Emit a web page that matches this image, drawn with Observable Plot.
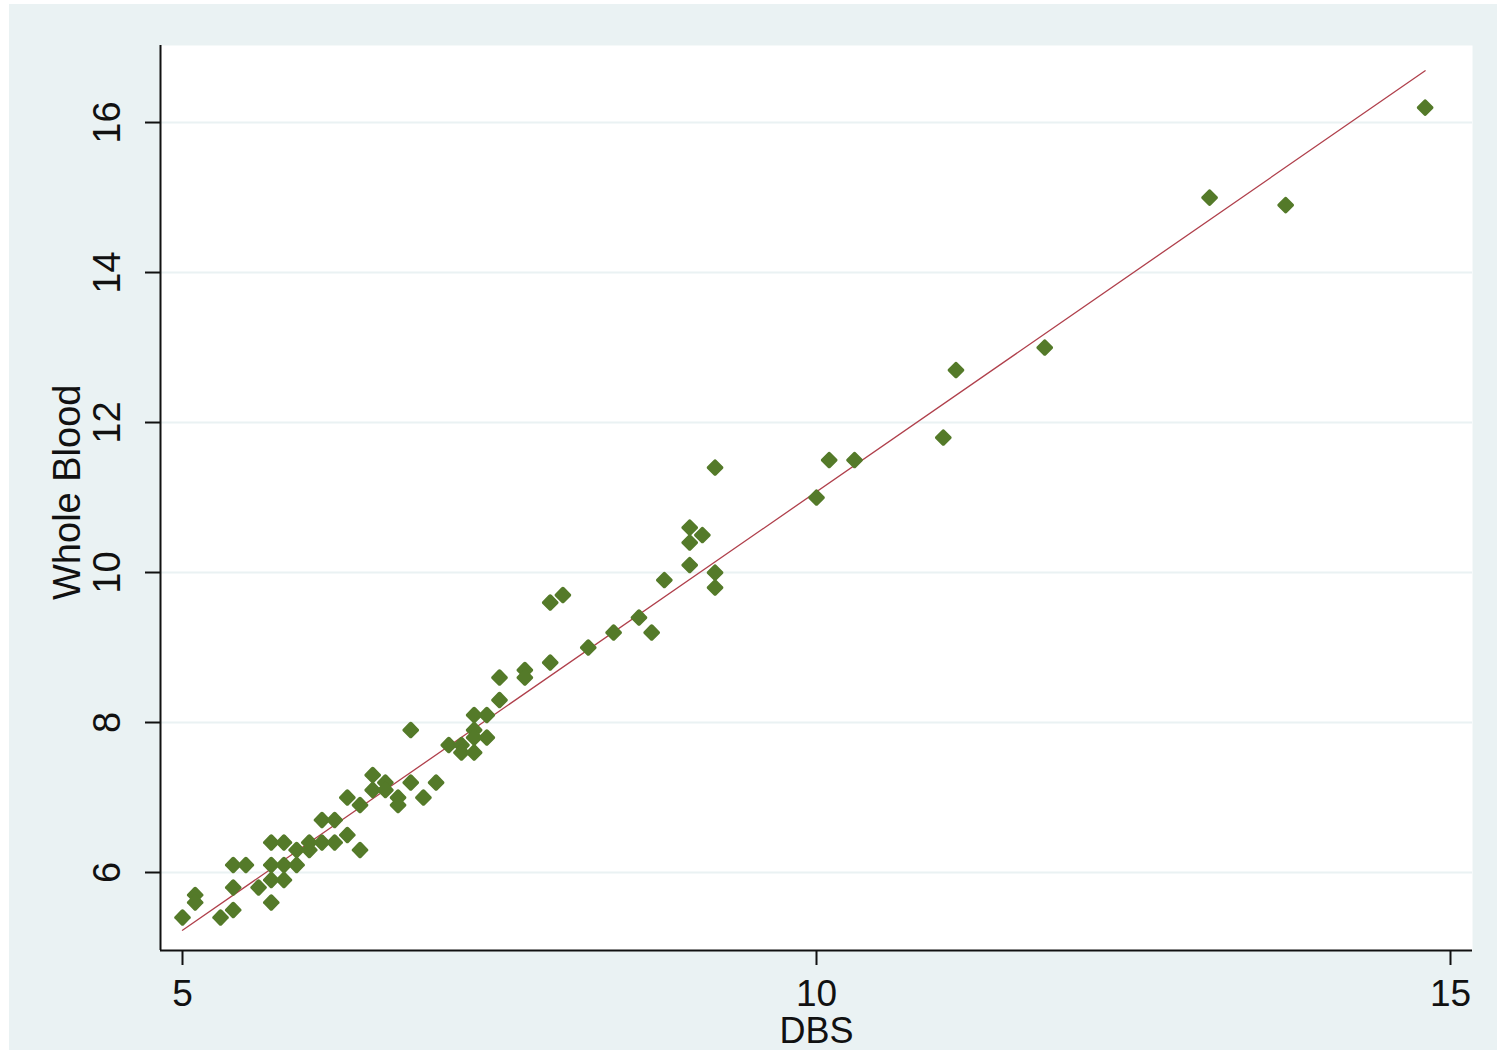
<!DOCTYPE html>
<html>
<head>
<meta charset="utf-8">
<script src="https://cdn.jsdelivr.net/npm/d3@7"></script>
<script src="https://cdn.jsdelivr.net/npm/@observablehq/plot@0.6"></script>
<style>
  html, body { margin: 0; padding: 0; background: #ffffff; }
  #chart { position: absolute; left: 9px; top: 4px; }
  svg { display: block; }
</style>
</head>
<body>
<div id="chart"></div>
<script>
// DBS (x) values
const dbs = [
  5.0, 5.1, 5.1, 5.3, 5.4, 5.4, 5.4, 5.5, 5.6, 5.7,
  5.7, 5.7, 5.7, 5.8, 5.8, 5.8, 5.9, 5.9, 6.0, 6.0,
  6.1, 6.2, 6.1, 6.2, 6.3, 6.4, 6.3, 6.4, 6.5, 6.5,
  6.6, 6.6, 6.7, 6.7, 6.8, 6.8, 6.9, 7.0, 7.1, 7.2,
  7.2, 7.3, 7.3, 7.3, 7.3, 7.4, 7.4, 7.5, 7.5, 7.7,
  7.7, 7.9, 7.9, 8.0, 8.2, 8.4, 8.6, 8.7, 8.8, 9.0,
  9.0, 9.0, 9.1, 9.2, 9.2, 9.2, 10.0, 10.1, 10.3, 11.0,
  11.1, 11.8, 13.1, 13.7, 14.8
];
// Whole Blood (y) values
const wholeBlood = [
  5.4, 5.7, 5.6, 5.4, 5.5, 5.8, 6.1, 6.1, 5.8, 5.6,
  5.9, 6.1, 6.4, 5.9, 6.1, 6.4, 6.1, 6.3, 6.3, 6.4,
  6.4, 6.4, 6.7, 6.7, 6.5, 6.3, 7.0, 6.9, 7.3, 7.1,
  7.2, 7.1, 7.0, 6.9, 7.9, 7.2, 7.0, 7.2, 7.7, 7.7,
  7.6, 8.1, 7.9, 7.8, 7.6, 8.1, 7.8, 8.3, 8.6, 8.7,
  8.6, 8.8, 9.6, 9.7, 9.0, 9.2, 9.4, 9.2, 9.9, 10.1,
  10.4, 10.6, 10.5, 10.0, 9.8, 11.4, 11.0, 11.5, 11.5, 11.8,
  12.7, 13.0, 15.0, 14.9, 16.2
];
// Fitted line endpoints
const fitX = [5.0, 14.8];
const fitY = [5.23, 16.69];

const xTicks = [5, 10, 15];
const yTicks = [6, 8, 10, 12, 14, 16];

const points = dbs.map((x, i) => ({x, y: wholeBlood[i]}));
const fit = fitX.map((x, i) => ({x, y: fitY[i]}));

const roundDiamond = {
  draw(context, size) {
    const h = Math.sqrt(size / Math.PI) * 1.58;
    const c = h * 0.18;
    context.moveTo(-c, -h + c);
    context.quadraticCurveTo(0, -h - c * 0.2, c, -h + c);
    context.lineTo(h - c, -c);
    context.quadraticCurveTo(h + c * 0.2, 0, h - c, c);
    context.lineTo(c, h - c);
    context.quadraticCurveTo(0, h + c * 0.2, -c, h - c);
    context.lineTo(-h + c, c);
    context.quadraticCurveTo(-h - c * 0.2, 0, -h + c, -c);
    context.closePath();
  }
};

const xDomain = [4.8265, 15.1735];
const yDomain = [4.96, 17.027];
const FONT = "'Liberation Sans', Arial, Helvetica, sans-serif";

const chart = Plot.plot({
  width: 1488,
  height: 1046,
  marginLeft: 151,
  marginRight: 25,
  marginTop: 41,
  marginBottom: 100,
  style: {background: "#eaf2f3", fontFamily: FONT, color: "#111"},
  x: {domain: xDomain},
  y: {domain: yDomain},
  marks: [
    Plot.frame({fill: "white", stroke: null}),
    Plot.gridY(yTicks, {stroke: "#eaf2f3", strokeOpacity: 1, strokeWidth: 2}),
    Plot.ruleX([xDomain[0]], {stroke: "#111", strokeWidth: 2}),
    Plot.ruleY([yDomain[0]], {stroke: "#111", strokeWidth: 2}),
    Plot.axisX(xTicks, {tickSize: 15, tickPadding: 14, fontSize: 37, stroke: "#111", strokeWidth: 2, fill: "#111", tickFormat: d3.format("d"), label: null}),
    Plot.axisY(yTicks, {tickSize: 15, tickPadding: 26, fontSize: 38, stroke: "#111", strokeWidth: 2, fill: "#111", tickFormat: d3.format("d"), tickRotate: -90, textAnchor: "middle", lineAnchor: "bottom", label: null}),
    Plot.text(["DBS"], {x: 10, frameAnchor: "bottom", dy: 81, text: d => d, fontSize: 36, fill: "#111", lineAnchor: "middle"}),
    Plot.text(["Whole Blood"], {y: 11.07, frameAnchor: "left", dx: -93, text: d => d, fontSize: 38, fill: "#111", rotate: -90, lineAnchor: "middle", textAnchor: "middle"}),
    Plot.line(fit, {x: "x", y: "y", stroke: "#b0404c", strokeWidth: 1.3}),
    Plot.dot(points, {x: "x", y: "y", r: 5.7, symbol: roundDiamond, fill: "#547a29", stroke: "none"})
  ]
});
document.getElementById("chart").appendChild(chart);
</script>
</body>
</html>
